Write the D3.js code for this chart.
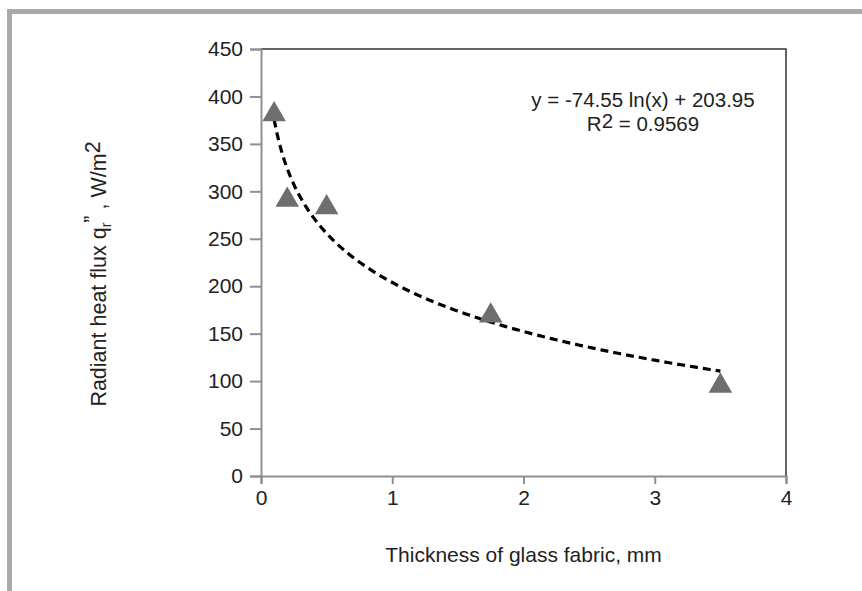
<!DOCTYPE html>
<html>
<head>
<meta charset="utf-8">
<script src="https://cdn.jsdelivr.net/npm/d3@7"></script>
<style>
  body { margin: 0; background: #fff; }
  svg { display: block; font-family: "Liberation Sans", Arial, sans-serif; }
</style>
</head>
<body>
<script>
const thickness = [0.1, 0.2, 0.5, 1.75, 3.5];
const flux = [383, 293, 285, 171, 97];
const xTicks = [0, 1, 2, 3, 4];
const yTicks = [0, 50, 100, 150, 200, 250, 300, 350, 400, 450];
const fitA = -74.55, fitB = 203.95;

const width = 862, height = 591;
const margin = { top: 49, right: 76, bottom: 115, left: 261 };

const svg = d3.select("body").append("svg")
    .attr("width", width)
    .attr("height", height);

// outer frame (top and left)
svg.append("rect").attr("x", 7).attr("y", 9).attr("width", width - 7).attr("height", 5).attr("fill", "#a9a9a9");
svg.append("rect").attr("x", 7).attr("y", 9).attr("width", 5).attr("height", height - 9).attr("fill", "#a9a9a9");

const x = d3.scaleLinear().domain([0, 4]).range([margin.left, width - margin.right]);
const y = d3.scaleLinear().domain([0, 450]).range([height - margin.bottom, margin.top]);

// top and right frame of plot
svg.append("path")
    .attr("d", `M${x(0)},${y(450)}H${x(4)}V${y(0)}`)
    .attr("fill", "none")
    .attr("stroke", "#333")
    .attr("stroke-width", 1.5);

const xAxis = svg.append("g")
    .attr("transform", `translate(0,${y(0)})`)
    .call(d3.axisBottom(x).tickValues(xTicks).tickSize(8).tickPadding(6).tickFormat(d3.format("d")));

const yAxis = svg.append("g")
    .attr("transform", `translate(${x(0)},0)`)
    .call(d3.axisLeft(y).tickValues(yTicks).tickSize(11).tickPadding(7).tickFormat(d3.format("d")));

[xAxis, yAxis].forEach(g => {
  g.attr("font-size", 21).attr("font-family", "'Liberation Sans', Arial, sans-serif");
  g.select(".domain").attr("stroke", "#8f8f8f").attr("stroke-width", 2);
  g.selectAll(".tick line").attr("stroke", "#8f8f8f").attr("stroke-width", 2);
  g.selectAll(".tick text").attr("fill", "#222");
});

// trend line
const fitX = d3.range(0.1, 3.5001, 0.02);
svg.append("path")
    .datum(fitX)
    .attr("d", d3.line().x(d => x(d)).y(d => y(fitA * Math.log(d) + fitB)))
    .attr("fill", "none")
    .attr("stroke", "#000")
    .attr("stroke-width", 3.2)
    .attr("stroke-dasharray", "8,5");

// markers
const tri = d3.symbol().type(d3.symbolTriangle).size(240);
svg.append("g").selectAll("path")
  .data(thickness)
  .join("path")
    .attr("transform", (d, i) => `translate(${x(d)},${y(flux[i]) + 2})`)
    .attr("d", tri)
    .attr("fill", "#6e6e6e");

// equation
svg.append("text")
    .attr("x", 643).attr("y", 107)
    .attr("text-anchor", "middle")
    .attr("font-size", 20.5)
    .attr("fill", "#222")
    .text("y = -74.55 ln(x) + 203.95");
const r2 = svg.append("text")
    .attr("x", 643).attr("y", 131)
    .attr("text-anchor", "middle")
    .attr("font-size", 20.5)
    .attr("fill", "#222");
r2.append("tspan").text("R");
r2.append("tspan").attr("dy", -3).text("2");
r2.append("tspan").attr("dy", 3).text(" = 0.9569");

// axis titles
svg.append("text")
    .attr("x", (x(0) + x(4)) / 2)
    .attr("y", 562)
    .attr("text-anchor", "middle")
    .attr("font-size", 21)
    .attr("fill", "#222")
    .text("Thickness of glass fabric, mm");

const yl = svg.append("text")
    .attr("transform", "translate(106,274) rotate(-90)")
    .attr("text-anchor", "middle")
    .attr("font-size", 21.5)
    .attr("fill", "#222");
yl.append("tspan").text("Radiant heat flux q");
yl.append("tspan").attr("font-size", 14).attr("dy", 5).text("r");
yl.append("tspan").attr("dy", -12).text("”");
yl.append("tspan").attr("dy", 7).text(" ,  W/m");
yl.append("tspan").attr("dy", -6).text("2");
</script>
</body>
</html>
